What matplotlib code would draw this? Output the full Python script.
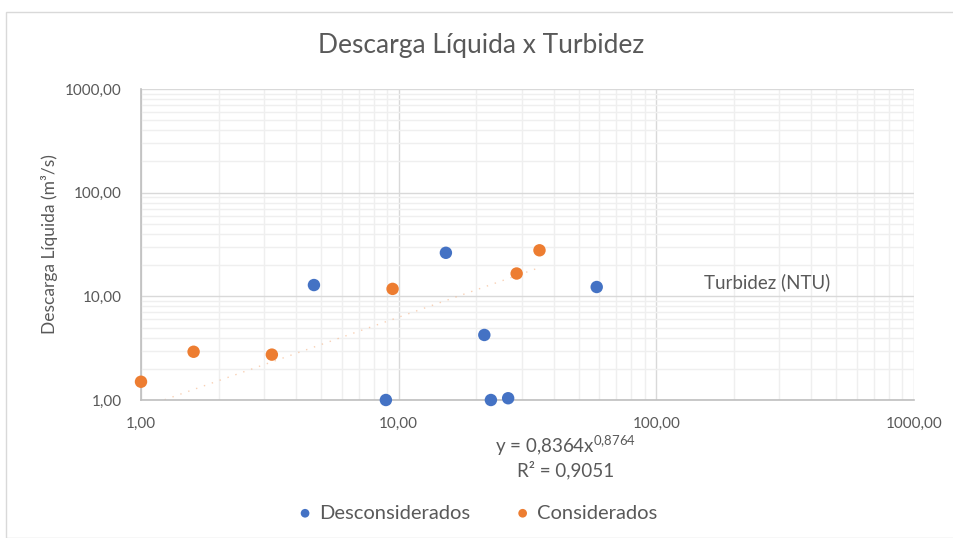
import numpy as np
from matplotlib import pyplot as plt
from matplotlib.patches import Rectangle

# turbidez (NTU) x descarga liquida (m3/s)
desc_x = [4.69, 15.25, 21.5, 8.92, 22.8, 26.6, 58.7]
desc_y = [12.85, 26.3, 4.24, 1.0, 1.0, 1.04, 12.3]
cons_x = [1.0, 1.6, 3.22, 9.47, 28.7, 35.2]
cons_y = [1.5, 2.92, 2.74, 11.8, 16.6, 27.8]

# power trendline fitted to the "Considerados" series
trend_a = 0.8364
trend_b = 0.8764
trend_r2 = 0.9051

tick_vals = [1, 10, 100, 1000]
tick_labels = ['1,00', '10,00', '100,00', '1000,00']

plt.rcParams['font.family'] = ['Lato', 'DejaVu Sans']
plt.rcParams['mathtext.fontset'] = 'custom'
plt.rcParams['mathtext.rm'] = 'Lato'
plt.rcParams['mathtext.default'] = 'regular'

txt = '#595959'
blue = '#4472C4'
orange = '#ED7D31'

fig = plt.figure(figsize=(9.54, 5.38), dpi=100)
fig.patches.append(Rectangle((6 / 954, 0), 1, 1 - 12 / 538, transform=fig.transFigure,
                             fill=False, edgecolor='#d9d9d9', linewidth=1))
ax = fig.add_axes([141 / 954, 1 - 400 / 538, (914 - 141) / 954, (400 - 89) / 538])

ax.set_xscale('log')
ax.set_yscale('log')
ax.set_xlim(1, 1000)
ax.set_ylim(1, 1000)

ax.grid(which='major', color='#d9d9d9', linewidth=1)
ax.grid(which='minor', color='#efefef', linewidth=1)
ax.set_axisbelow(True)
for side in ['top', 'right']:
    ax.spines[side].set_visible(False)
for side in ['left', 'bottom']:
    ax.spines[side].set_color('#bfbfbf')
    ax.spines[side].set_linewidth(1.2)
ax.tick_params(which='both', length=0, colors=txt, labelsize=11)
ax.tick_params(axis='x', pad=12)
ax.tick_params(axis='y', pad=14)
ax.set_xticks(tick_vals)
ax.set_xticklabels(tick_labels)
ax.set_yticks(tick_vals)
ax.set_yticklabels(tick_labels)

xt = np.linspace(min(cons_x), max(cons_x), 200)
ax.plot(xt, trend_a * xt ** trend_b, linestyle=(0, (1, 5)), color='#F4B183',
        linewidth=1.0, alpha=0.6)

ax.scatter(desc_x, desc_y, s=80, color=blue, zorder=3, clip_on=False,
           label='Desconsiderados', edgecolors='none')
ax.scatter(cons_x, cons_y, s=80, color=orange, zorder=3, clip_on=False,
           label='Considerados', edgecolors='none')

fig.text(481 / 954, 1 - 46 / 538, 'Descarga Líquida x Turbidez', ha='center', va='center',
         fontsize=19, color=txt)
ax.set_ylabel('Descarga Líquida (m³/s)', fontsize=12.5, color=txt, labelpad=5)
ax.text(767 / 954, 1 - 282 / 538, 'Turbidez (NTU)', transform=fig.transFigure,
        ha='center', va='center', fontsize=13.5, color=txt)

fig.text(565 / 954, 1 - 446 / 538, 'y = 0,8364x$^{0{,}8764}$', ha='center', va='center',
         fontsize=13.5, color=txt)
fig.text(566 / 954, 1 - 470 / 538, 'R² = 0,9051', ha='center', va='center',
         fontsize=13.5, color=txt)

fig.legend(loc='center', bbox_to_anchor=(0.5, 1 - 513 / 538), ncol=2, frameon=False,
           fontsize=14.5, labelcolor=txt, handlelength=0.8, handletextpad=0.3,
           columnspacing=2.2, markerscale=0.7)

fig.savefig('out.png', dpi=100)
